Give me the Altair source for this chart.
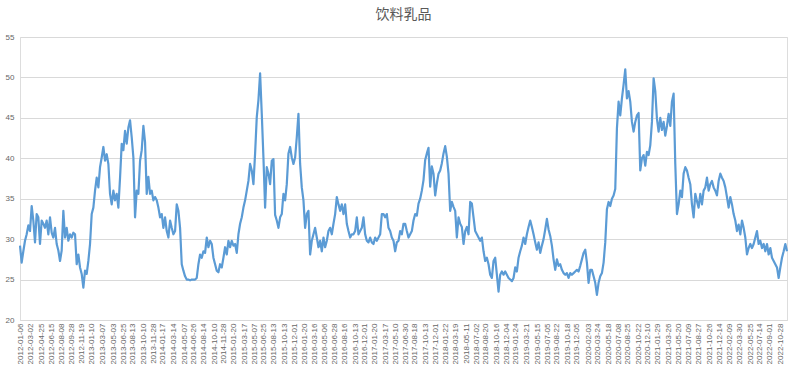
import altair as alt
import pandas as pd

title_text = "饮料乳品"

# Values, in order of time (evenly spaced samples)
seg_2012_2013 = [29.2, 27.1, 28.5, 29.8, 30.6, 31.7, 31.0, 34.1, 32.3, 29.6, 33.1, 32.7, 29.4, 32.3, 31.9,
                 31.4, 32.3, 30.6, 32.7, 30.8, 30.2, 31.4, 29.4, 28.6, 27.3, 28.6, 33.5, 30.2, 31.4, 29.8,
                 30.6, 30.2, 30.8, 30.6, 26.9, 28.1, 26.5, 25.7, 24.0, 26.1, 25.7, 27.3, 29.4, 33.1, 33.9,
                 36.0, 37.6, 36.4, 38.9, 40.1, 41.4, 39.7, 40.5, 39.3, 35.6, 34.3, 36.0, 34.8, 35.6, 33.9,
                 37.6, 41.8, 41.0, 43.4, 41.8, 43.8, 44.7, 42.6, 40.1, 32.7, 36.0, 35.6, 39.7, 41.0, 44.0]
seg_2013_2015 = [42.0, 35.6, 37.7, 35.6, 36.0, 34.8, 35.2, 34.8, 33.9, 32.7, 33.1, 31.4, 32.7, 31.0, 30.2,
                 32.3, 31.4, 30.6, 31.0, 34.3, 33.5, 31.4, 26.9, 26.1, 25.4, 25.0, 25.0, 24.9, 25.0, 25.0,
                 25.0, 25.2, 26.9, 28.1, 27.7, 28.5, 28.3, 30.2, 29.0, 29.8, 29.4, 27.7, 26.9, 26.1, 25.9,
                 26.9, 26.5, 27.7, 29.0, 28.1, 29.8, 29.0, 29.8, 29.2, 29.4, 28.3, 30.6, 31.9, 32.7, 33.9,
                 34.8, 36.0, 37.2, 39.3, 38.5, 36.8, 40.6, 45.1, 47.2, 50.5, 45.5, 40.1, 33.9, 38.9, 38.1,
                 36.8, 39.7, 39.9]
seg_2015_2017 = [33.0, 32.3, 31.4, 32.7, 33.1, 35.6, 34.8, 36.8, 40.6, 41.4, 40.1, 39.3, 40.1, 42.6, 45.5,
                 39.3, 36.4, 34.8, 31.4, 33.1, 33.5, 28.1, 29.8, 30.6, 31.4, 30.2, 29.0, 29.8, 28.5, 30.2,
                 29.0, 29.8, 31.0, 31.4, 30.6, 31.9, 33.1, 35.2, 34.3, 33.5, 34.3, 33.1, 34.3, 31.9, 31.0,
                 30.2, 30.6, 30.6, 31.0, 32.7, 30.6, 31.0, 31.4, 32.7, 30.6, 29.8, 29.6, 30.2, 29.6, 29.4,
                 30.2, 29.8, 30.2, 30.6, 33.1, 33.1, 32.7, 33.1, 31.4, 31.0, 30.2, 29.8, 28.5, 29.6, 29.8,
                 31.0, 30.6, 31.9]
seg_2017_2019 = [31.9, 31.0, 30.2, 30.6, 31.0, 32.3, 33.1, 32.9, 34.4, 35.0, 36.0, 37.3, 39.8, 40.6, 41.3,
                 36.5, 39.0, 38.1, 35.4, 36.9, 38.1, 38.5, 39.4, 40.6, 41.5, 40.2, 38.1, 33.5, 34.6, 34.0,
                 33.5, 30.2, 32.7, 31.9, 31.5, 29.4, 31.0, 31.5, 30.6, 34.6, 34.4, 32.7, 31.0, 30.6, 30.2,
                 29.8, 30.2, 28.5, 27.3, 27.7, 26.9, 25.6, 25.2, 27.3, 27.7, 25.6, 23.5, 25.6, 26.0, 25.6,
                 26.0, 25.6, 25.2, 25.0, 24.8, 25.2, 26.5, 26.0, 27.7, 28.5, 29.2, 30.2, 29.4, 30.6, 31.5,
                 32.3, 31.5, 30.6]
seg_2019_2021 = [29.6, 28.7, 29.6, 28.3, 29.2, 30.0, 31.2, 32.5, 31.2, 30.4, 29.2, 27.5, 26.2, 27.5, 26.7,
                 26.9, 26.2, 25.8, 25.6, 25.8, 25.2, 25.8, 25.6, 25.8, 26.0, 26.2, 26.0, 26.7, 27.5, 28.3,
                 28.7, 27.1, 24.6, 26.2, 26.2, 25.4, 24.6, 23.1, 24.6, 25.4, 25.8, 27.1, 29.6, 33.7, 34.6,
                 34.1, 35.0, 35.4, 36.2, 43.7, 47.0, 45.3, 47.4, 49.1, 51.0, 47.4, 48.3, 47.0, 44.5, 43.3,
                 44.5, 45.3, 45.6, 38.5, 40.0, 40.4, 39.1, 40.8, 40.4, 41.6, 44.5, 49.9, 48.3, 44.9, 43.3]
seg_2021_2022 = [45.0, 43.5, 44.5, 42.8, 44.0, 45.5, 44.0, 47.0, 48.0, 39.3, 33.1, 34.3, 36.0, 35.2, 38.1,
                 38.9, 38.5, 37.6, 36.8, 34.3, 32.7, 35.6, 34.7, 33.9, 35.6, 34.3, 36.0, 36.4, 37.6, 36.0,
                 36.8, 37.2, 36.4, 36.0, 35.4, 37.2, 38.1, 37.6, 37.2, 36.4, 35.2, 33.9, 35.2, 34.3, 33.1,
                 32.3, 31.0, 31.8, 30.6, 32.3, 31.4, 30.2, 28.1, 28.9, 29.4, 28.9, 29.4, 30.2, 31.0, 29.4,
                 29.8, 28.9, 29.4, 28.5, 29.4, 28.1, 28.9, 27.7, 27.3, 26.9, 26.5, 25.2, 26.5, 27.7, 28.5,
                 29.4, 28.5]

values = seg_2012_2013 + seg_2013_2015 + seg_2015_2017 + seg_2017_2019 + seg_2019_2021 + seg_2021_2022

start_date = (2012, 1, 6)
end_date = (2022, 12, 2)

tick_labels = [
    "2012-01-06", "2012-03-02", "2012-04-25", "2012-06-15", "2012-08-08", "2012-09-28", "2012-11-19",
    "2013-01-10", "2013-03-07", "2013-05-03", "2013-06-25", "2013-08-13", "2013-10-10", "2013-11-28",
    "2014-01-17", "2014-03-14", "2014-05-07", "2014-06-26", "2014-08-14", "2014-10-10", "2014-11-28",
    "2015-01-20", "2015-03-17", "2015-05-07", "2015-06-25", "2015-08-13", "2015-10-13", "2015-12-01",
    "2016-01-20", "2016-03-16", "2016-05-06", "2016-06-28", "2016-08-16", "2016-10-13", "2016-12-01",
    "2017-01-20", "2017-03-17", "2017-05-10", "2017-06-30", "2017-08-18", "2017-10-13", "2017-12-01",
    "2018-01-22", "2018-03-19", "2018-05-11", "2018-07-02", "2018-08-20", "2018-10-16", "2018-12-04",
    "2019-01-24", "2019-03-21", "2019-05-15", "2019-07-05", "2019-08-22", "2019-10-18", "2019-12-05",
    "2020-02-03", "2020-03-24", "2020-05-18", "2020-07-08", "2020-08-25", "2020-10-22", "2020-12-10",
    "2021-01-29", "2021-03-26", "2021-05-20", "2021-07-09", "2021-08-27", "2021-10-26", "2021-12-14",
    "2022-02-09", "2022-03-30", "2022-05-25", "2022-07-14", "2022-09-01", "2022-10-28",
]
y_ticks = [20, 25, 30, 35, 40, 45, 50, 55]


def dt(y, m, d):
    return alt.DateTime(year=y, month=m, date=d)


tick_values = [dt(*[int(p) for p in s.split("-")]) for s in tick_labels]

dates = pd.date_range(pd.Timestamp(*start_date), pd.Timestamp(*end_date), periods=len(values))
df = pd.DataFrame({"date": dates.strftime("%Y-%m-%dT%H:%M:%S"), "value": values})

grey = "#595959"

chart = (
    alt.Chart(df)
    .mark_line(color="#5B9BD5", strokeWidth=2.2, strokeJoin="round")
    .encode(
        x=alt.X(
            "date:T",
            title=None,
            scale=alt.Scale(domain=[dt(*start_date), dt(*end_date)], nice=False),
            axis=alt.Axis(
                values=tick_values,
                format="%Y-%m-%d",
                labelAngle=-90,
                labelFontSize=8,
                labelFont="Liberation Sans",
                labelColor="#666666",
                labelPadding=3,
                labelOverlap=False,
                labelFlush=False,
                ticks=False,
                grid=False,
                domainColor="#d9d9d9",
                domainWidth=1,
            ),
        ),
        y=alt.Y(
            "value:Q",
            title=None,
            scale=alt.Scale(domain=[20, 55], nice=False, zero=False),
            axis=alt.Axis(
                values=y_ticks,
                labelFontSize=8,
                labelFont="Liberation Sans",
                labelColor="#666666",
                labelPadding=6,
                ticks=False,
                domain=False,
                gridColor="#d9d9d9",
                gridWidth=1,
            ),
        ),
    )
    .properties(
        width=767,
        height=283,
        title=alt.TitleParams(
            text=title_text,
            fontSize=14,
            font="Noto Sans CJK SC",
            fontWeight="normal",
            color=grey,
            anchor="middle",
            offset=11,
        ),
        autosize=alt.AutoSizeParams(type="none"),
        padding={"left": 20, "top": 37, "right": 13, "bottom": 58},
    )
    .configure_view(stroke=None)
    .configure(background="white")
)

chart.save("out.html", embed_options={"renderer": "svg", "actions": False})
